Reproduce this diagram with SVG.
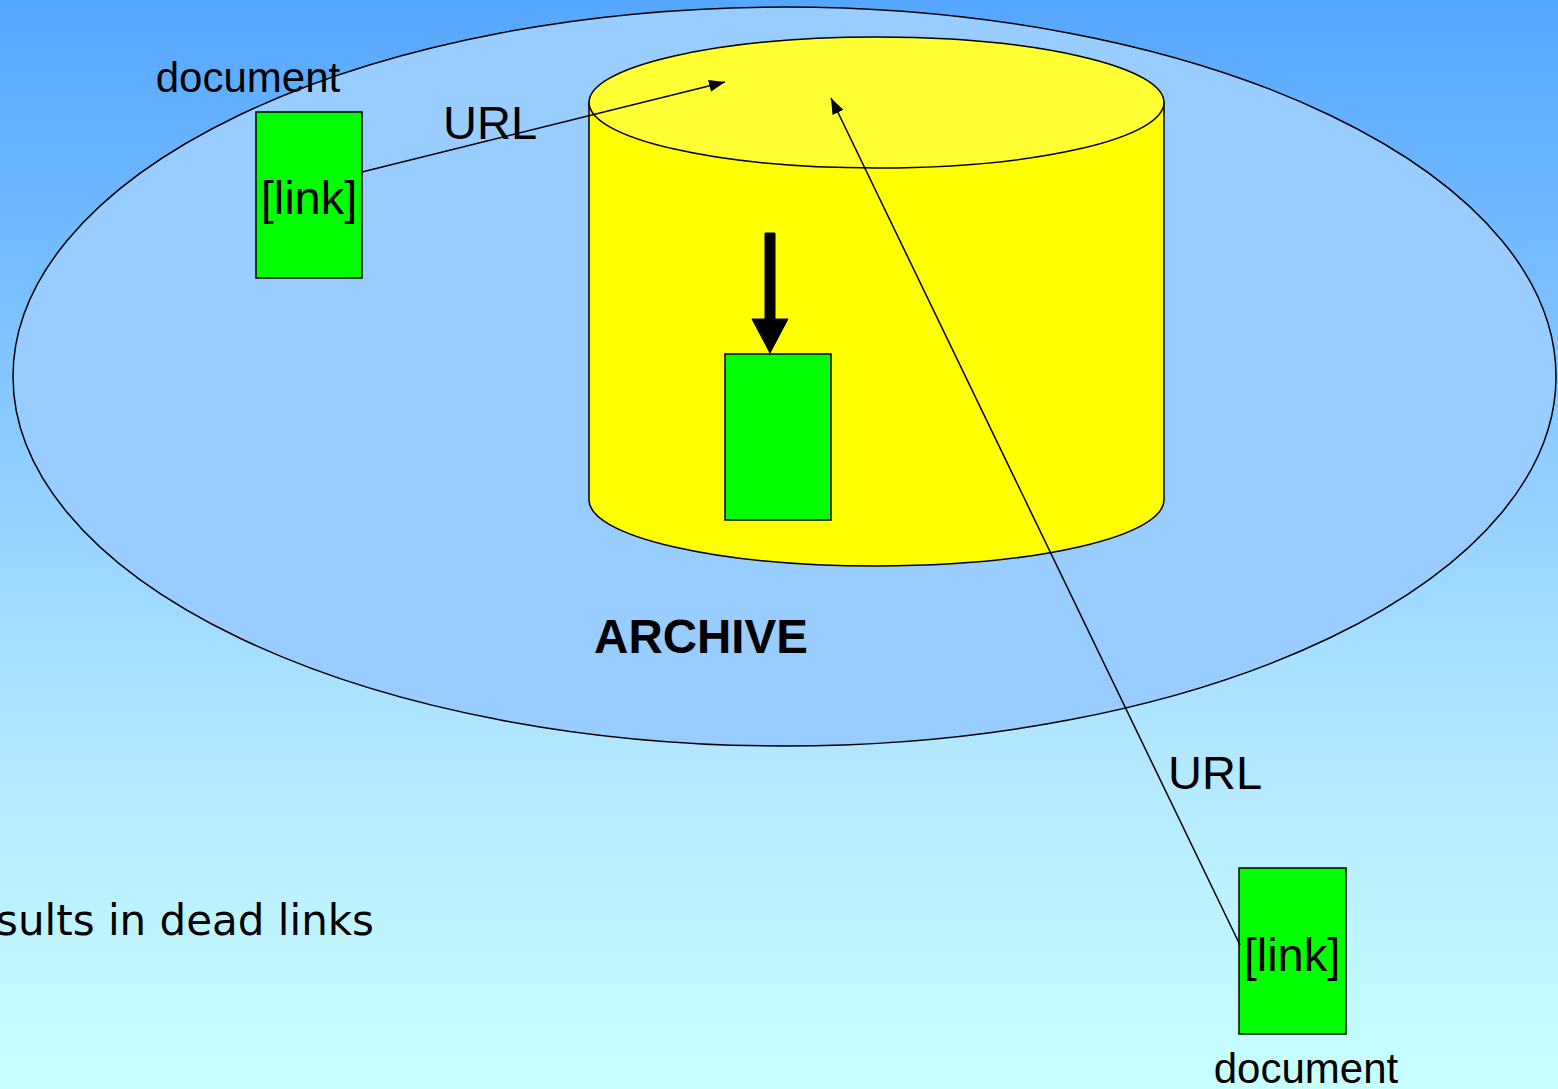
<svg xmlns="http://www.w3.org/2000/svg" width="1558" height="1089" viewBox="0 0 1558 1089">
  <defs>
    <linearGradient id="sky" x1="0" y1="0" x2="0" y2="1">
      <stop offset="0" stop-color="#55A6FF"/>
      <stop offset="0.7" stop-color="#B4E8FF"/>
      <stop offset="1" stop-color="#C8FFFF"/>
    </linearGradient>
    <marker id="tip" viewBox="0 0 10 10" refX="10" refY="5" markerWidth="16" markerHeight="12" markerUnits="userSpaceOnUse" orient="auto" preserveAspectRatio="none">
      <path d="M0,0 L10,5 L0,10 Z" fill="#000"/>
    </marker>
  </defs>
  <style>
    .line { stroke: #000; stroke-width: 1.5; fill: none; }
    .doc { fill: #00FF00; stroke: #000; stroke-width: 1.5; }
    .lbl { font-family: "Liberation Sans", Arial, sans-serif; fill: #000; }
  </style>

  <!-- background -->
  <rect x="0" y="0" width="1558" height="1089" fill="url(#sky)"/>

  <!-- archive region -->
  <g id="archive-region">
    <ellipse cx="784.5" cy="376.5" rx="771.5" ry="369.5" fill="#99CCFF" stroke="#000" stroke-width="1.5"/>
    <text class="lbl" x="701" y="653" font-size="47.5" font-weight="bold" text-anchor="middle">ARCHIVE</text>
  </g>

  <!-- storage cylinder -->
  <g id="storage">
    <path d="M589,102.5 L589,500 A287.5,66 0 0 0 1164,500 L1164,102.5 Z" fill="#FFFF00" stroke="#000" stroke-width="1.5"/>
    <ellipse cx="876.5" cy="102.5" rx="287.5" ry="65.5" fill="#FFFF33" stroke="#000" stroke-width="1.5"/>
  </g>

  <!-- archived copy -->
  <g id="archived-doc">
    <rect class="doc" x="725" y="354" width="106" height="166"/>
  </g>

  <!-- source document, top left -->
  <g id="doc-left">
    <rect class="doc" x="256" y="112" width="106" height="166"/>
    <text class="lbl" x="309" y="214" font-size="47" text-anchor="middle">[link]</text>
    <text class="lbl" x="248" y="92" font-size="42" text-anchor="middle">document</text>
  </g>

  <!-- source document, bottom right -->
  <g id="doc-right">
    <rect class="doc" x="1239" y="868" width="107" height="166"/>
    <text class="lbl" x="1292" y="971" font-size="47" text-anchor="middle">[link]</text>
    <text class="lbl" x="1306" y="1083" font-size="42" text-anchor="middle">document</text>
  </g>

  <!-- connectors -->
  <g id="connectors">
    <line class="line" x1="362" y1="172" x2="725" y2="82" marker-end="url(#tip)"/>
    <line class="line" x1="1240" y1="945" x2="831" y2="98" marker-end="url(#tip)"/>
    <!-- archiving arrow: thick shaft with wide head -->
    <path d="M765,233 L775,233 L775,319 L788,319 L770,353 L752,319 L765,319 Z" fill="#000" stroke="#000" stroke-width="1"/>
    <text class="lbl" x="443" y="139" font-size="47">URL</text>
    <text class="lbl" x="1168" y="789" font-size="47">URL</text>
  </g>

  <!-- caption -->
  <text x="374" y="935" font-family="'DejaVu Sans', Verdana, sans-serif" font-size="42" text-anchor="end" fill="#000">sults in dead links</text>
</svg>
